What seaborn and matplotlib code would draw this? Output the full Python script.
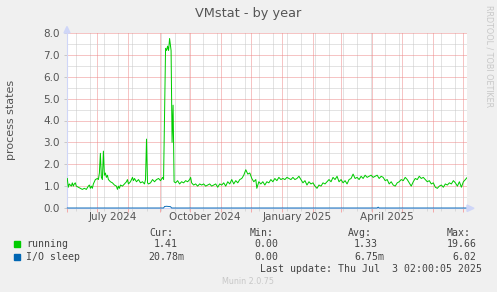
import numpy as np
import pandas as pd
import matplotlib
matplotlib.use("Agg")
import matplotlib.pyplot as plt
import matplotlib.transforms as mtrans
from matplotlib.patches import Rectangle, Polygon
import seaborn as sns

# ---------------- data ----------------
START = pd.Timestamp("2024-06-01")
run_days = [
    0, 1, 2, 4, 5, 6, 7, 8, 9, 11,
    13, 15, 17, 19, 21, 22, 23, 24, 25, 26,
    28, 30, 31, 32, 33, 34, 35, 36, 37, 38,
    39, 40, 41, 43, 45, 47, 49, 50, 51, 52,
    53, 55, 57, 59, 60, 61, 63, 65, 66, 67,
    69, 71, 73, 75, 77, 78, 79, 80, 81, 83,
    85, 87, 89, 91, 93, 95, 96, 98, 99, 100,
    101, 102, 103.5, 104.5, 105.5, 106.5, 108, 110, 112, 114,
    116, 118, 120, 122, 123, 124, 126, 128, 130, 132,
    134, 136, 138, 140, 142, 144, 146, 148, 150, 152,
    154, 156, 158, 160, 162, 164, 166, 168, 170, 172,
    174, 176, 178, 180, 182, 184, 186, 188, 189, 191,
    193, 195, 197, 199, 201, 203, 205, 207, 209, 211,
    213, 215, 217, 219, 221, 223, 225, 227, 229, 231,
    233, 235, 237, 239, 241, 243, 245, 247, 249, 251,
    253, 255, 257, 259, 261, 263, 265, 267, 269, 271,
    273, 275, 277, 279, 281, 283, 285, 287, 289, 291,
    293, 295, 297, 299, 301, 303, 305, 307, 309, 311,
    313, 315, 317, 319, 321, 323, 325, 327, 329, 331,
    333, 335, 337, 339, 341, 343, 345, 347, 349, 351,
    353, 355, 357, 359, 361, 363, 365, 367, 369, 371,
    373, 375, 377, 379, 381, 383, 385, 387, 389, 391,
    393, 395, 397, 399]
run_vals = [
    1.35, 0.95, 1.1, 1.0, 1.15, 1.0, 1.1, 1.15, 1.0, 0.95,
    0.9, 0.85, 0.9, 0.85, 1.0, 1.05, 0.9, 1.0, 0.9, 1.1,
    1.3, 1.35, 1.3, 1.6, 2.5, 1.4, 1.3, 2.6, 1.5, 1.6,
    1.4, 1.5, 1.3, 1.2, 1.15, 1.05, 1.0, 0.85, 1.0, 0.9,
    1.05, 1.0, 1.1, 1.2, 1.3, 1.1, 1.2, 1.4, 1.25, 1.35,
    1.2, 1.3, 1.15, 1.2, 1.1, 1.3, 3.15, 1.15, 1.1, 1.15,
    1.3, 1.2, 1.3, 1.35, 1.25, 1.4, 1.3, 7.3, 7.2, 7.4,
    7.2, 7.75, 7.2, 3.0, 4.7, 1.2, 1.15, 1.25, 1.1, 1.2,
    1.15, 1.25, 1.2, 1.3, 1.4, 1.15, 1.05, 1.1, 1.0, 1.1,
    1.05, 1.1, 1.0, 1.05, 1.1, 1.0, 1.05, 1.1, 0.95, 1.1,
    1.05, 1.15, 1.0, 1.2, 1.1, 1.3, 1.1, 1.25, 1.15, 1.3,
    1.35, 1.5, 1.75, 1.55, 1.6, 1.35, 1.2, 1.3, 0.9, 1.2,
    1.1, 1.2, 1.05, 1.2, 1.15, 1.3, 1.2, 1.35, 1.25, 1.4,
    1.3, 1.35, 1.3, 1.4, 1.35, 1.3, 1.4, 1.3, 1.35, 1.45,
    1.3, 1.15, 1.25, 1.05, 1.2, 1.1, 1.15, 1.0, 0.9, 1.05,
    1.0, 1.15, 1.1, 1.2, 1.3, 1.2, 1.4, 1.3, 1.45, 1.2,
    1.3, 1.15, 1.25, 1.1, 1.3, 1.35, 1.55, 1.35, 1.4, 1.3,
    1.45, 1.35, 1.5, 1.4, 1.45, 1.5, 1.4, 1.45, 1.5, 1.35,
    1.45, 1.4, 1.25, 1.3, 1.1, 1.2, 1.05, 1.0, 1.15, 1.2,
    1.3, 1.25, 1.4, 1.3, 1.15, 1.0, 1.2, 1.35, 1.3, 1.45,
    1.35, 1.4, 1.3, 1.2, 1.25, 1.1, 1.15, 0.95, 0.9, 1.0,
    1.05, 0.95, 1.1, 1.05, 1.15, 1.1, 1.25, 1.15, 1.0, 1.2,
    0.95, 1.2, 1.3, 1.41]
io_days = [0, 96, 97, 99, 101, 103, 104, 309, 310, 311, 399]
io_vals = [0.0, 0.0, 0.07, 0.08, 0.07, 0.06, 0.0, 0.0, 0.04, 0.0, 0.0]

series_names = ["running", "I/O sleep"]
series_colors = ["#00cc00", "#0066b3"]
x_labels = ["July 2024", "October 2024", "January 2025", "April 2025"]
x_label_dates = ["2024-07-16 12:00", "2024-10-16 12:00", "2025-01-16 12:00", "2025-04-16 00:00"]
y_ticks = [0, 1, 2, 3, 4, 5, 6, 7, 8]
stat_headers = ["Cur:", "Min:", "Avg:", "Max:"]
stats_running = ["1.41", "0.00", "1.33", "19.66"]
stats_io = ["20.78m", "0.00", "6.75m", "6.02"]

# ---------------- figure ----------------
W, H = 497, 292
fig = plt.figure(figsize=(W / 100, H / 100), dpi=100, facecolor="#f0f0f0")

def fx(px):
    return px / W

def fy(py):
    return 1 - py / H

L, R, T, B = 67, 467, 33, 208
ax = fig.add_axes([fx(L), fy(B), (R - L) / W, (B - T) / H])
ax.set_facecolor("#ffffff")

run_df = pd.DataFrame({"date": START + pd.to_timedelta(run_days, unit="D"),
                       "value": run_vals})
io_df = pd.DataFrame({"date": START + pd.to_timedelta(io_days, unit="D"),
                      "value": io_vals})

sns.lineplot(data=run_df, x="date", y="value", ax=ax, color=series_colors[0],
             lw=0.72, zorder=3, legend=False)
sns.lineplot(data=io_df, x="date", y="value", ax=ax, color=series_colors[1],
             lw=0.65, zorder=4, legend=False, clip_on=False)

ax.set_xlim(START - pd.Timedelta(hours=7), START + pd.Timedelta(days=398.6))
ax.set_ylim(0, 8.0)

month_starts = pd.date_range("2024-06-01", "2025-07-01", freq="MS")
minor_x = pd.date_range("2024-06-10", "2025-07-03", freq="14D")
ax.set_xticks(month_starts)
ax.set_xticklabels([""] * len(month_starts))
ax.set_xticks(minor_x, minor=True)
ax.set_yticks(y_ticks)
ax.set_yticklabels([f"{v:.1f}" for v in y_ticks])
ax.set_yticks(np.arange(0.5, 8, 1.0), minor=True)

dot = (0, (1, 1))
ax.grid(which="minor", color="#c8c8c8", ls=dot, lw=0.72, snap=True)
ax.grid(which="major", color="#ee8a8a", ls=dot, lw=0.72, snap=True)
ax.set_axisbelow(True)

ax.tick_params(axis="x", which="major", length=3, width=0.7, color="#f4a8a8",
               direction="out", pad=1)
ax.tick_params(axis="x", which="minor", length=2, width=0.7, color="#d8d8d8",
               direction="out")
ax.tick_params(axis="y", which="major", length=2, width=0.7, color="#c8c8c8",
               labelsize=7.5, labelcolor="#555555", pad=3)
ax.tick_params(axis="y", which="minor", length=0)

for s in ["top", "right"]:
    ax.spines[s].set_visible(False)
for s in ["left", "bottom"]:
    ax.spines[s].set_color("#cfd6f8")
    ax.spines[s].set_linewidth(0.8)
ax.set_xlabel("")
ax.set_ylabel("")

trans = mtrans.blended_transform_factory(ax.transData, fig.transFigure)
for lab, d in zip(x_labels, x_label_dates):
    ax.text(pd.Timestamp(d), fy(217.5), lab, transform=trans, ha="center", va="center",
            fontsize=7.5, color="#555555", family="DejaVu Sans")

# arrows
fig.patches.append(Polygon([[fx(64), fy(33)], [fx(70), fy(33)], [fx(67), fy(26.5)]],
                           closed=True, transform=fig.transFigure, color="#cfd6f8"))
fig.patches.append(Polygon([[fx(467), fy(205)], [fx(467), fy(211.5)], [fx(474), fy(208.3)]],
                           closed=True, transform=fig.transFigure, color="#cfd6f8"))

# title and labels
fig.text(fx(248), fy(13.5), "VMstat - by year", ha="center", va="center",
         fontsize=9.3, color="#555555", family="DejaVu Sans")
fig.text(fx(11), fy(120), "process states", rotation=90, ha="center", va="center",
         fontsize=8, color="#555555", family="DejaVu Sans")
fig.text(fx(488.5), fy(5), "RRDTOOL / TOBI OETIKER", rotation=270, ha="center",
         va="top", fontsize=5.8, color="#c8c8c8", family="DejaVu Sans")

# legend
mono = dict(family="DejaVu Sans Mono", fontsize=7.1, color="#444444", va="center")
head_x = [149.3, 249.3, 348.3, 447]
for hx, h in zip(head_x, stat_headers):
    fig.text(fx(hx), fy(233.3), h, ha="left", **mono)
row_y = [244.3, 256.7]
right_x = [178, 278, 378, 476.7]
for i, (name, color, stats) in enumerate(zip(series_names, series_colors,
                                              [stats_running, stats_io])):
    y = row_y[i]
    fig.patches.append(Rectangle((fx(14), fy(y + 3)), 6 / W, 6 / H,
                                 transform=fig.transFigure, color=color))
    fig.text(fx(26.5), fy(y), name, ha="left", **mono)
    for rx, s in zip(right_x, stats):
        shift = 6 if s.endswith("m") else 0
        fig.text(fx(rx + shift), fy(y), s, ha="right", **mono)

fig.text(fx(482.5), fy(268.7), "Last update: Thu Jul  3 02:00:05 2025", ha="right", **mono)
fig.text(fx(248), fy(281), "Munin 2.0.75", ha="center", va="center",
         fontsize=5.8, color="#c8c8c8", family="DejaVu Sans")

fig.savefig("out.png", dpi=100, facecolor=fig.get_facecolor())
